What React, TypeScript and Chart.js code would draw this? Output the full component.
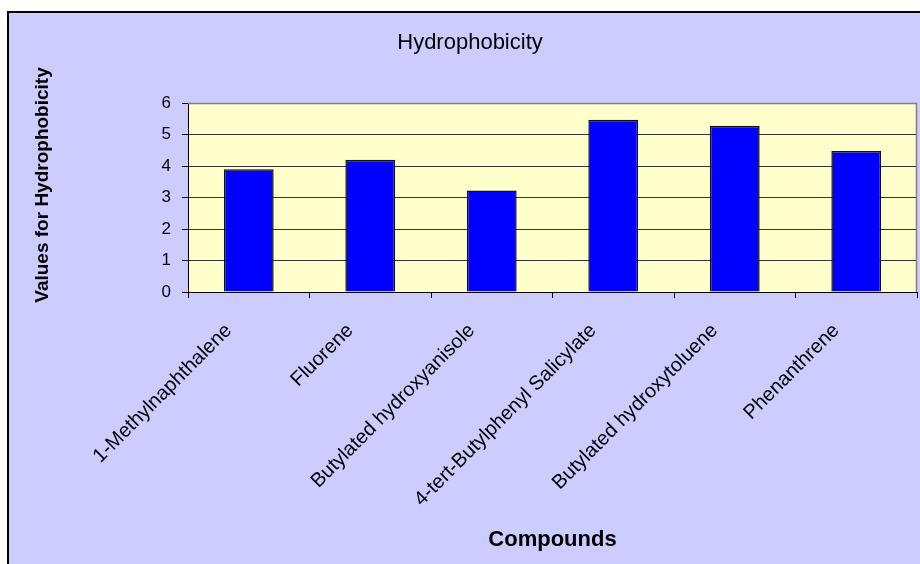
import React, { useEffect, useRef } from 'react';
import { Chart, registerables } from 'chart.js';

Chart.register(...registerables);

const categories = [
  '1-Methylnaphthalene',
  'Fluorene',
  'Butylated hydroxyanisole',
  '4-tert-Butylphenyl Salicylate',
  'Butylated hydroxytoluene',
  'Phenanthrene',
];
const hydrophobicity = [3.9, 4.2, 3.22, 5.47, 5.28, 4.48];
const yMin = 0;
const yMax = 6;
const yStep = 1;

const chartTitle = 'Hydrophobicity';
const yTitle = 'Values for Hydrophobicity';
const xTitle = 'Compounds';

const FONT = "'Liberation Sans', Arial, Helvetica, sans-serif";

const backgroundPlugin = {
  id: 'bgPlugin',
  beforeDraw(chart: any) {
    const { ctx, width, height, chartArea } = chart;
    ctx.save();
    ctx.fillStyle = '#ffffff';
    ctx.fillRect(0, 0, width, height);
    ctx.fillStyle = '#CCCCFF';
    ctx.fillRect(8, 12, width - 8, height - 12);
    ctx.strokeStyle = '#000000';
    ctx.lineWidth = 2;
    ctx.beginPath();
    ctx.moveTo(8, height);
    ctx.lineTo(8, 12);
    ctx.lineTo(width, 12);
    ctx.stroke();
    ctx.fillStyle = '#FFFFCC';
    ctx.fillRect(chartArea.left, chartArea.top, chartArea.right - chartArea.left, chartArea.bottom - chartArea.top);
    ctx.restore();
  },
  afterDraw(chart: any) {
    const { ctx, chartArea } = chart;
    ctx.save();
    ctx.strokeStyle = '#808080';
    ctx.lineWidth = 1.5;
    ctx.beginPath();
    ctx.moveTo(chartArea.left, chartArea.top + 0.5);
    ctx.lineTo(chartArea.right - 0.5, chartArea.top + 0.5);
    ctx.lineTo(chartArea.right - 0.5, chartArea.bottom);
    ctx.stroke();
    // chart title
    ctx.fillStyle = '#000000';
    ctx.textAlign = 'center';
    ctx.textBaseline = 'middle';
    ctx.font = `normal 22px ${FONT}`;
    ctx.fillText(chartTitle, 470, 43);
    // vertical axis title
    ctx.font = `bold 19px ${FONT}`;
    ctx.translate(43, 185);
    ctx.rotate(-Math.PI / 2);
    ctx.fillText(yTitle, 0, 0);
    ctx.restore();
  },
};

export default function App() {
  const canvasRef = useRef<HTMLCanvasElement | null>(null);

  useEffect(() => {
    if (!canvasRef.current) return;
    Chart.defaults.font.family = FONT;
    const chart = new Chart(canvasRef.current, {
      type: 'bar',
      data: {
        labels: categories,
        datasets: [
          {
            label: chartTitle,
            data: hydrophobicity,
            backgroundColor: '#0000FF',
            borderColor: '#111111',
            borderWidth: 1.5,
            barPercentage: 0.41,
            categoryPercentage: 1,
          },
        ],
      },
      options: {
        responsive: false,
        animation: false,
        layout: { padding: { top: 103, left: 0, right: 3, bottom: 0 } },
        plugins: {
          legend: { display: false },
          tooltip: { enabled: false },
          title: { display: false },
        },
        scales: {
          x: {
            afterFit(scale: any) {
              scale.height = 272;
            },
            grid: {
              offset: true,
              drawOnChartArea: false,
              drawTicks: true,
              tickLength: 6,
              tickColor: '#000000',
            },
            border: { display: true, color: '#000000', width: 1 },
            ticks: {
              autoSkip: false,
              maxRotation: 45,
              minRotation: 45,
              color: '#000000',
              padding: 21,
              labelOffset: -20,
              font: { size: 20, family: FONT },
            },
            title: {
              display: true,
              text: xTitle,
              color: '#000000',
              font: { size: 22, weight: 'bold', family: FONT },
              padding: { top: 0, bottom: 11 },
            },
          },
          y: {
            min: yMin,
            max: yMax,
            afterFit(scale: any) {
              scale.width = 188;
            },
            ticks: {
              stepSize: yStep,
              color: '#000000',
              padding: 11,
              font: { size: 17, family: FONT },
            },
            grid: {
              color: '#333333',
              lineWidth: 1,
              tickLength: 6,
              tickColor: '#000000',
            },
            border: { display: true, color: '#000000', width: 1 },
            title: { display: false },
          },
        },
      },
      plugins: [backgroundPlugin],
    });
    return () => chart.destroy();
  }, []);

  return (
    <div style={{ position: 'fixed', left: 0, top: 0, width: 920, height: 564 }}>
      <canvas ref={canvasRef} width={920} height={564} />
    </div>
  );
}
